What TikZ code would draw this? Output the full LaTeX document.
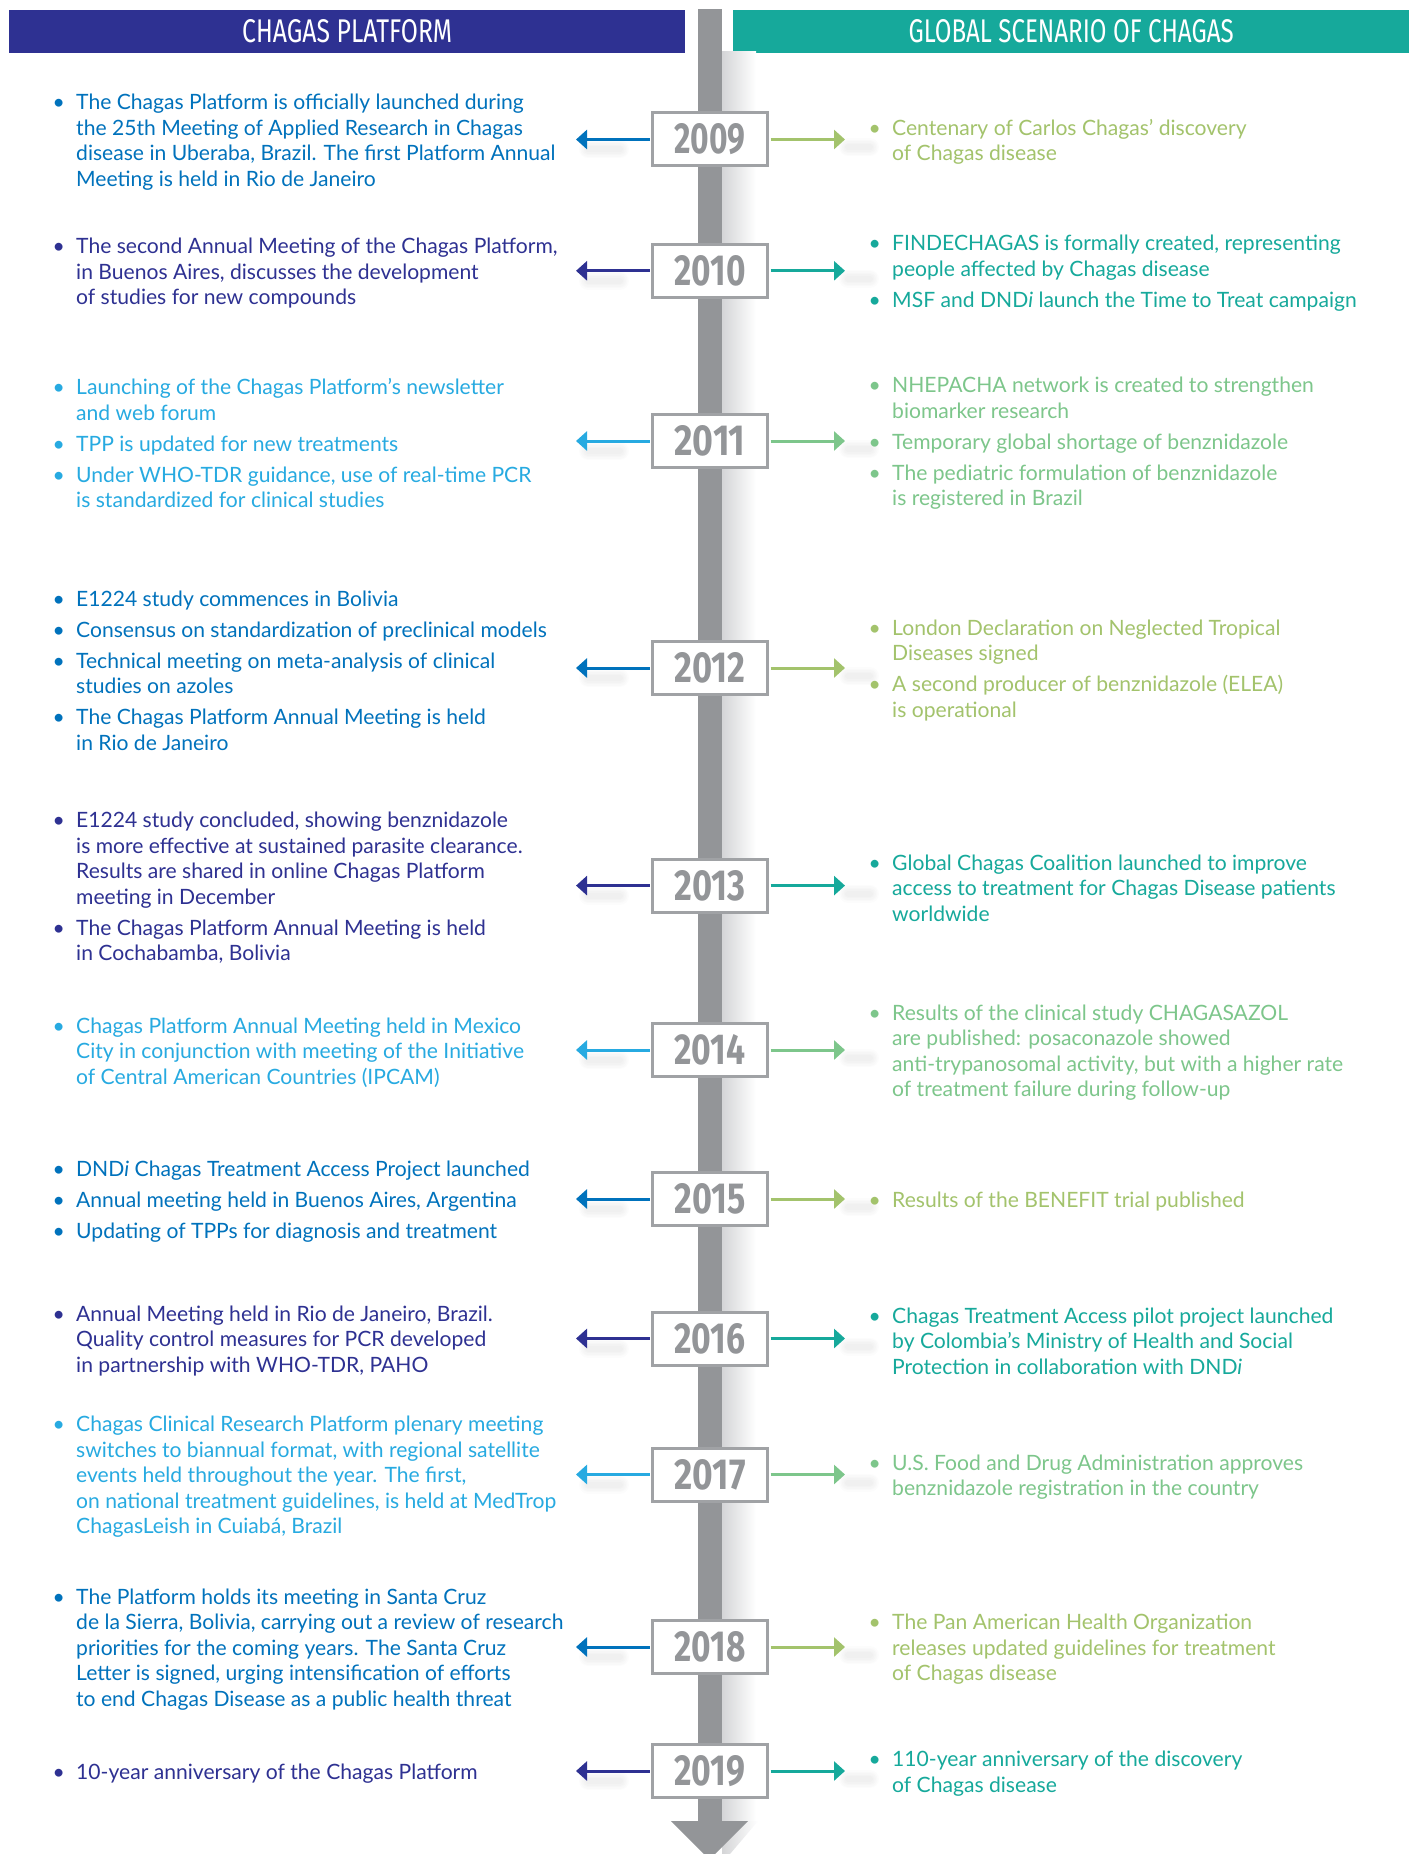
\documentclass[tikz,border=0pt]{standalone}
\usepackage{fontspec}
\setmainfont{Lato}
\newfontfamily\condfont{Fira Sans}
\usetikzlibrary{arrows.meta}
\definecolor{indigo}{HTML}{2E3192}
\definecolor{mblue}{HTML}{0072BC}
\definecolor{lblue}{HTML}{27AAE1}
\definecolor{ygreen}{HTML}{A3C36C}
\definecolor{teal}{HTML}{16A99B}
\definecolor{lgreen}{HTML}{7DC68B}
\definecolor{bargray}{HTML}{939598}
\definecolor{boxgray}{HTML}{A0A2A5}
\definecolor{shadowgray}{HTML}{D4D5D7}
\newcommand\itm{\llap{\makebox[23.5pt][l]{\textbullet}}}
\newcommand\isep{\\[5.5pt]}
\newcommand\yeartxt[1]{\resizebox{71pt}{30pt}{\condfont\bfseries #1}}
\tikzset{
  evt/.style={anchor=west, align=left, inner sep=0pt, yshift=-2.5pt, font=\fontsize{21.1}{25.5}\selectfont},
  yearbox/.style={draw=boxgray, line width=3pt, fill=white, minimum width=115pt, minimum height=53pt, inner sep=0pt, text=bargray},
  hdr/.style={anchor=north west, minimum width=676pt, minimum height=43pt, inner sep=0pt, text=white},
  arr/.style={line width=3pt, -{Triangle[length=11pt,width=19pt]}},
  shd/.style={line cap=round, black, opacity=0.012},
}
\begin{document}
\begin{tikzpicture}[x=1pt,y=-1pt]
\clip (0,0) rectangle (1416,1854);
\fill[white] (0,0) rectangle (1416,1854);
% headers
\node[hdr, fill=indigo] (hL) at (9,9.5) {\resizebox{210pt}{23pt}{\condfont CHAGAS PLATFORM}};
\node[hdr, fill=teal] (hR) at (733,9.5) {\resizebox{325pt}{23pt}{\condfont GLOBAL SCENARIO OF CHAGAS}};
% timeline shadow and bar
\shade[left color=shadowgray, right color=white] (722,52) rectangle (756,1821);
\shade[left color=shadowgray, right color=white] (722,1821) -- (758,1821) -- (730,1854) -- (722,1854) -- cycle;
\fill[bargray] (698,9.5) rectangle (722,1821);
\fill[bargray] (671,1821) -- (748,1821) -- (709.5,1859.5) -- cycle;
% years, arrows
\foreach \yr/\yy/\cl/\cr in {2009/139.5/mblue/ygreen, 2010/270.8/indigo/teal, 2011/441/lblue/lgreen,
  2012/668/mblue/ygreen, 2013/885.6/indigo/teal, 2014/1050/lblue/lgreen, 2015/1199/mblue/ygreen,
  2016/1338.5/indigo/teal, 2017/1474.5/lblue/lgreen, 2018/1647/mblue/ygreen, 2019/1771/indigo/teal}{
  \foreach \w in {18,15,12,9,6}{
    \draw[shd, line width=\w pt] (588,\yy+10) -- (620,\yy+10);
    \draw[shd, line width=\w pt] (848,\yy+8) -- (870,\yy+8);
  }
  \node[yearbox] (y\yr) at (710,\yy) {\yeartxt{\yr}};
  \coordinate (l\yr) at (576,\yy);
  \coordinate (r\yr) at (845,\yy);
  \draw[arr, \cl] ([xshift=-1.5pt]y\yr.west) -- (l\yr);
  \draw[arr, \cr] ([xshift=1.5pt]y\yr.east) -- (r\yr);
}
% left column
\node[evt, mblue] (t09L) at (76,139.5) {\itm The Chagas Platform is officially launched during\\the 25th Meeting of Applied Research in Chagas\\disease in Uberaba, Brazil. The first Platform Annual\\Meeting is held in Rio de Janeiro};
\node[evt, indigo] (t10L) at (76,270.8) {\itm The second Annual Meeting of the Chagas Platform,\\in Buenos Aires, discusses the development\\of studies for new compounds};
\node[evt, lblue] (t11L) at (76,441) {\itm Launching of the Chagas Platform’s newsletter\\and web forum\isep\itm TPP is updated for new treatments\isep\itm Under WHO-TDR guidance, use of real-time PCR\\is standardized for clinical studies};
\node[evt, mblue] (t12L) at (76,668) {\itm E1224 study commences in Bolivia\isep\itm Consensus on standardization of preclinical models\isep\itm Technical meeting on meta-analysis of clinical\\studies on azoles\isep\itm The Chagas Platform Annual Meeting is held\\in Rio de Janeiro};
\node[evt, indigo] (t13L) at (76,885.6) {\itm E1224 study concluded, showing benznidazole\\is more effective at sustained parasite clearance.\\Results are shared in online Chagas Platform\\meeting in December\isep\itm The Chagas Platform Annual Meeting is held\\in Cochabamba, Bolivia};
\node[evt, lblue] (t14L) at (76,1050) {\itm Chagas Platform Annual Meeting held in Mexico\\City in conjunction with meeting of the Initiative\\of Central American Countries (IPCAM)};
\node[evt, mblue] (t15L) at (76,1199) {\itm DND\textit{i} Chagas Treatment Access Project launched\isep\itm Annual meeting held in Buenos Aires, Argentina\isep\itm Updating of TPPs for diagnosis and treatment};
\node[evt, indigo] (t16L) at (76,1338.5) {\itm Annual Meeting held in Rio de Janeiro, Brazil.\\Quality control measures for PCR developed\\in partnership with WHO-TDR, PAHO};
\node[evt, lblue] (t17L) at (76,1474.5) {\itm Chagas Clinical Research Platform plenary meeting\\switches to biannual format, with regional satellite\\events held throughout the year. The first,\\on national treatment guidelines, is held at MedTrop\\ChagasLeish in Cuiabá, Brazil};
\node[evt, mblue] (t18L) at (76,1647) {\itm The Platform holds its meeting in Santa Cruz\\de la Sierra, Bolivia, carrying out a review of research\\priorities for the coming years. The Santa Cruz\\Letter is signed, urging intensification of efforts\\to end Chagas Disease as a public health threat};
\node[evt, indigo] (t19L) at (76,1771) {\itm 10-year anniversary of the Chagas Platform};
% right column
\node[evt, ygreen] (t09R) at (892,139.5) {\itm Centenary of Carlos Chagas’ discovery\\of Chagas disease};
\node[evt, teal] (t10R) at (892,270.8) {\itm FINDECHAGAS is formally created, representing\\people affected by Chagas disease\isep\itm MSF and DND\textit{i} launch the Time to Treat campaign};
\node[evt, lgreen] (t11R) at (892,441) {\itm NHEPACHA network is created to strengthen\\biomarker research\isep\itm Temporary global shortage of benznidazole\isep\itm The pediatric formulation of benznidazole\\is registered in Brazil};
\node[evt, ygreen] (t12R) at (892,668) {\itm London Declaration on Neglected Tropical\\Diseases signed\isep\itm A second producer of benznidazole (ELEA)\\is operational};
\node[evt, teal] (t13R) at (892,885.6) {\itm Global Chagas Coalition launched to improve\\access to treatment for Chagas Disease patients\\worldwide};
\node[evt, lgreen] (t14R) at (892,1050) {\itm Results of the clinical study CHAGASAZOL\\are published: posaconazole showed\\anti-trypanosomal activity, but with a higher rate\\of treatment failure during follow-up};
\node[evt, ygreen] (t15R) at (892,1199) {\itm Results of the BENEFIT trial published};
\node[evt, teal] (t16R) at (892,1338.5) {\itm Chagas Treatment Access pilot project launched\\by Colombia’s Ministry of Health and Social\\Protection in collaboration with DND\textit{i}};
\node[evt, lgreen] (t17R) at (892,1474.5) {\itm U.S. Food and Drug Administration approves\\benznidazole registration in the country};
\node[evt, ygreen] (t18R) at (892,1647) {\itm The Pan American Health Organization\\releases updated guidelines for treatment\\of Chagas disease};
\node[evt, teal] (t19R) at (892,1771) {\itm 110-year anniversary of the discovery\\of Chagas disease};
\end{tikzpicture}
\end{document}
